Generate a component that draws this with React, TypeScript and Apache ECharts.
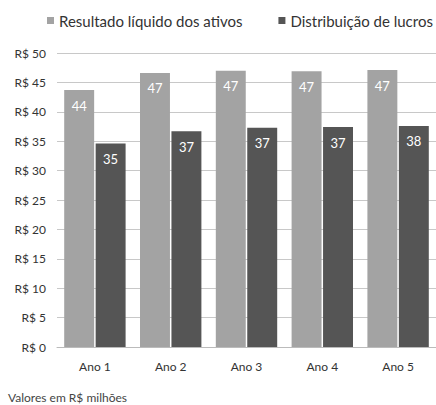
import React, { useEffect, useRef } from "react";
import * as echarts from "echarts";

const categories = ["Ano 1", "Ano 2", "Ano 3", "Ano 4", "Ano 5"];
const resultadoLiquido = [43.7, 46.6, 47.0, 46.9, 47.1];
const distribuicaoLucros = [34.6, 36.7, 37.3, 37.4, 37.6];
const seriesNames = ["Resultado líquido dos ativos", "Distribuição de lucros"];
const footnote = "Valores em R$ milhões";

const FONT = "Lato, 'Open Sans', sans-serif";

export default function App() {
  const ref = useRef<HTMLDivElement>(null);
  useEffect(() => {
    if (!ref.current) return;
    const chart = echarts.init(ref.current, undefined, { renderer: "svg" });
    const label = {
      show: true,
      position: "insideTop" as const,
      distance: 9,
      color: "#ffffff",
      fontSize: 13,
      fontFamily: FONT,
      formatter: (p: any) => String(Math.round(p.value)),
    };
    chart.setOption({
      animation: false,
      backgroundColor: "#ffffff",
      textStyle: { fontFamily: FONT },
      legend: {
        data: seriesNames,
        top: 13,
        left: 47,
        width: 389,
        padding: 0,
        itemWidth: 7,
        itemHeight: 7,
        itemGap: 36,
        icon: "rect",
        textStyle: { fontSize: 15, color: "#333", fontFamily: FONT },
      },
      grid: { left: 57, right: 0, top: 53, bottom: 58 },
      xAxis: {
        type: "category",
        data: categories,
        axisLine: { show: true, lineStyle: { color: "#bbb" } },
        axisTick: { show: false },
        axisLabel: { fontSize: 12, color: "#333", margin: 13, fontFamily: FONT },
      },
      yAxis: {
        type: "value",
        min: 0,
        max: 50,
        interval: 5,
        axisLine: { show: false },
        axisTick: { show: false },
        axisLabel: {
          fontSize: 12,
          color: "#333",
          margin: 11,
          fontFamily: FONT,
          formatter: (v: number) => "R$ " + v,
        },
        splitLine: { lineStyle: { color: "#c8c8c8", width: 1 } },
      },
      graphic: [
        {
          type: "text",
          left: 8,
          top: 391,
          style: { text: footnote, fontSize: 12, fill: "#444", fontFamily: FONT },
        },
      ],
      series: [
        {
          name: seriesNames[0],
          type: "bar",
          data: resultadoLiquido,
          itemStyle: { color: "#a3a3a3" },
          barGap: "5%",
          barCategoryGap: "19%",
          label,
        },
        {
          name: seriesNames[1],
          type: "bar",
          data: distribuicaoLucros,
          itemStyle: { color: "#555555" },
          label,
        },
      ],
    });
    return () => chart.dispose();
  }, []);
  return <div ref={ref} style={{ width: 436, height: 405, position: "absolute", left: 0, top: 0 }} />;
}
